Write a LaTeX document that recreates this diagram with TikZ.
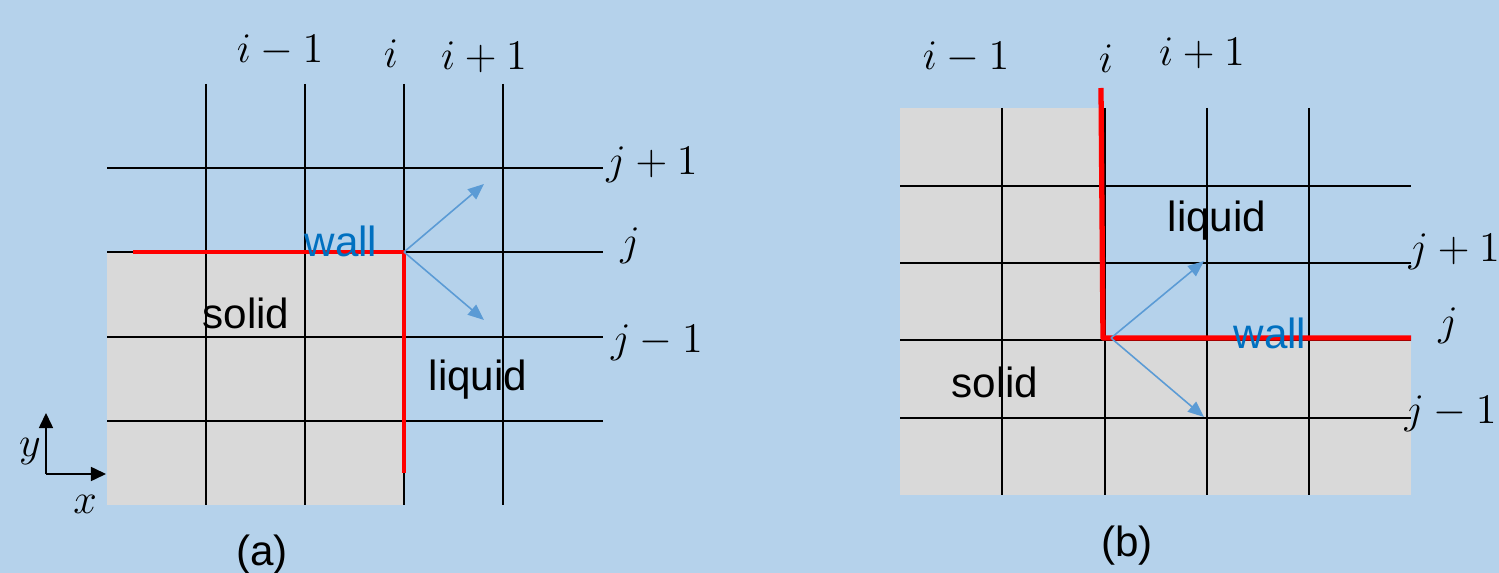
\documentclass[tikz,border=0pt]{standalone}
\usepackage{fontspec}
\newfontfamily\arialfont{Liberation Sans}
\usepackage{tikz}
\usetikzlibrary{arrows.meta,positioning,calc}
\definecolor{bgblue}{RGB}{181,210,235}
\definecolor{solidgray}{RGB}{217,217,217}
\definecolor{raycol}{RGB}{91,155,213}
\definecolor{wallblue}{RGB}{0,112,192}

\begin{document}
\begin{tikzpicture}[x=0.01cm,y=-0.01cm,line join=round,
    idx/.style={anchor=base,inner sep=0pt,font=\fontsize{12}{14}\selectfont},
    txt/.style={anchor=base,inner sep=0pt,font=\arialfont\fontsize{12}{14}\selectfont},
    gridline/.style={line width=0.4pt,black},
    wallline/.style={line width=1.15pt,red},
    ray/.style={line width=0.45pt,raycol,-{Triangle[length=0.16cm,width=0.13cm]}}]
  \fill[bgblue] (0,0) rectangle (1499,573);
  \useasboundingbox (0,0) rectangle (1499,573);
  % (a)
  \fill[solidgray] (107,252) rectangle (404,505);
  \foreach \x in {206,305,404,503} \draw[gridline] (\x,84) -- (\x,505);
  \foreach \y in {168,252,337,421} \draw[gridline] (107,\y) -- (603,\y);
  \draw[wallline] (133,252) -- (404,252) -- (404,473);
  \coordinate (Pa) at (404,252);
  \coordinate (Ua) at (484,184);
  \coordinate (Da) at (484,320);
  \draw[ray] (Pa) -- (Ua);
  \draw[ray] (Pa) -- (Da);
  \coordinate (O) at (46,474);
  \coordinate (Oy) at (46,413);
  \coordinate (Ox) at (106,474);
  \draw[line width=0.45pt,-{Triangle[length=0.15cm,width=0.14cm]}] (O) -- (Oy);
  \draw[line width=0.45pt,-{Triangle[length=0.15cm,width=0.14cm]}] (O) -- (Ox);
  \node[idx] (ylab) at (30,456) {$y$};
  \node[idx] (xlab) at (85,514) {$x$};
  \node[idx] (im1a) at (280,63) {$i-1$};
  \node[idx] (ia) at (391,68) {$i$};
  \node[idx] (ip1a) at (484,70) {$i+1$};
  \node[idx] (jp1a) at (652,175) {$j+1$};
  \node[idx] (ja) at (630,256) {$j$};
  \node[idx] (jm1a) at (657,353) {$j-1$};
  \node[txt,text=wallblue] (walla) at (341,257) {wall};
  \node[txt] (solida) at (246,329) {solid};
  \node[txt] (liquida) at (478,390) {liquid};
  \node[txt] (capa) at (262,565) {(a)};
  % (b)
  \fill[solidgray] (900,108) rectangle (1105,495);
  \fill[solidgray] (1105,340) rectangle (1411,495);
  \foreach \x in {1002,1105,1207,1309} \draw[gridline] (\x,108) -- (\x,495);
  \foreach \y in {186,263,340,418} \draw[gridline] (900,\y) -- (1411,\y);
  \draw[wallline,line width=1.5pt] (1101,88) -- (1103,338) -- (1411,338);
  \coordinate (Pb) at (1111,338);
  \coordinate (Ub) at (1204,261);
  \coordinate (Db) at (1204,417);
  \draw[ray] (Pb) -- (Ub);
  \draw[ray] (Pb) -- (Db);
  \node[idx] (im1b) at (966,70) {$i-1$};
  \node[idx] (ib) at (1106,73) {$i$};
  \node[idx] (ip1b) at (1202,66) {$i+1$};
  \node[idx,anchor=base west] (jp1b) at (1408,262) {$j+1$};
  \node[idx] (jb) at (1448,336) {$j$};
  \node[idx,anchor=base west] (jm1b) at (1404,423) {$j-1$};
  \node[txt] (liquidb) at (1217,232) {liquid};
  \node[txt,text=wallblue] (wallb) at (1270,349) {wall};
  \node[txt] (solidb) at (995,397) {solid};
  \node[txt] (capb) at (1127,557) {(b)};
\end{tikzpicture}
\end{document}
